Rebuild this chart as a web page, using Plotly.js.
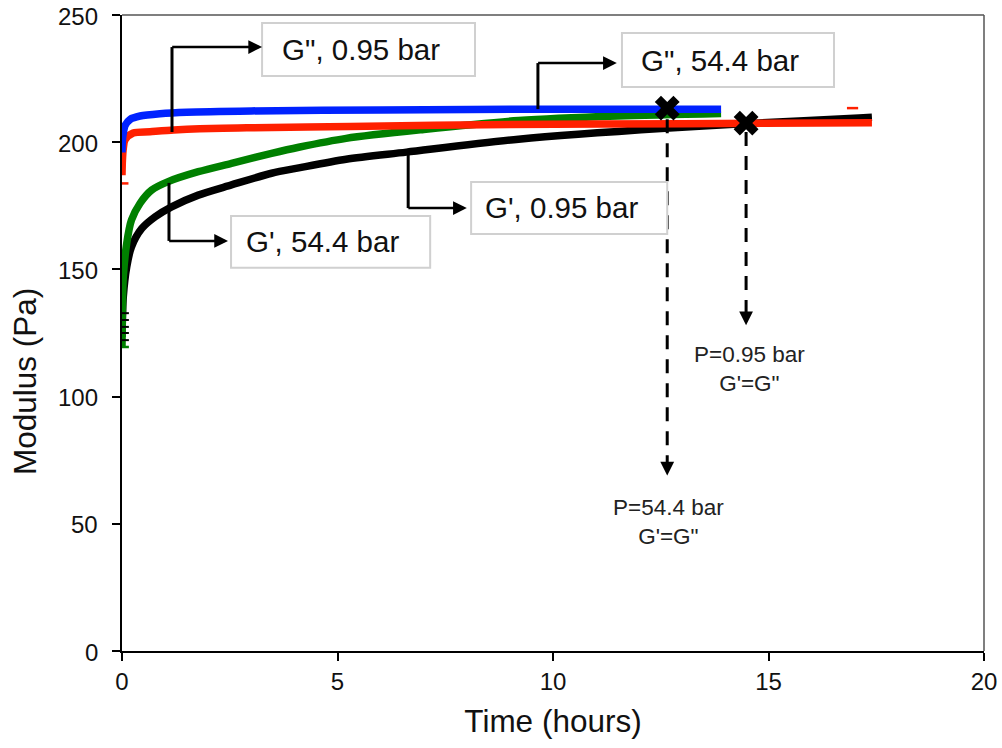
<!DOCTYPE html>
<html>
<head>
<meta charset="utf-8">
<script src="https://cdn.plot.ly/plotly-3.0.1.min.js"></script>
<style>html,body{margin:0;padding:0;background:#fff;}#chart{width:1002px;height:748px;}</style>
</head>
<body>
<div id="chart"></div>
<script>
// blue curve
var blueT = [0, 0.01, 0.04, 0.07, 0.19, 0.42, 0.88, 1.5, 3, 6, 10, 13.9];
var blueV = [196, 201, 204.5, 206.5, 209, 210.3, 211.2, 211.8, 212.3, 212.7, 213, 213];
// red curve
var redT = [0, 0.01, 0.03, 0.07, 0.26, 0.65, 1.2, 1.8, 3, 5.3, 9, 13, 17.4];
var redV = [187, 193, 197.5, 200.9, 203.6, 204.1, 204.8, 205.3, 205.7, 206.2, 207, 207.3, 207.6];
// green curve
var greenT = [0, 0.01, 0.03, 0.11, 0.22, 0.42, 0.69, 1.07, 1.77, 2.54, 3.47, 4.1, 5.2, 7, 9.2, 11.5, 13.9];
var greenV = [119.6, 135, 147, 160.3, 169.4, 176, 181.2, 184.5, 188.4, 191.7, 195.6, 198, 201.5, 205, 208.5, 210.3, 211.3];
// black curve
var blackT = [0, 0.01, 0.03, 0.11, 0.22, 0.46, 0.77, 1.15, 1.77, 2.54, 3.47, 4.1, 5.2, 6.6, 9.2, 12.6, 14.5, 17.1, 17.4];
var blackV = [123.5, 131, 139.3, 151, 158.9, 166.1, 170.7, 174.6, 179.2, 183.2, 187.8, 189.9, 193.3, 196.1, 201.2, 205.5, 207.3, 209.5, 209.8];
// stray error-bar dashes
var redDashT = [0.02, 16.95];
var redDashV = [183.8, 213.4];
var blackDashT = [0.03, 0.03, 0.03, 0.03, 0.03];
var blackDashV = [122.2, 125, 127.4, 130.1, 132.8];
var greenDashT = [0.03];
var greenDashV = [119.5];
// crossover points
var crossT = [12.65, 14.48];
var crossV = [213.4, 207.5];
// tick labels
var xTicks = [0, 5, 10, 15, 20];
var yTicks = [0, 50, 100, 150, 200, 250];

var F = 'Liberation Sans, Arial, sans-serif';

var traces = [
  {x: blackT, y: blackV, mode: 'lines', line: {color: '#000000', width: 7.5, shape: 'spline', smoothing: 0.8}},
  {x: greenT, y: greenV, mode: 'lines', line: {color: '#008000', width: 7.5, shape: 'spline', smoothing: 0.8}},
  {x: redT, y: redV, mode: 'lines', line: {color: '#ff2000', width: 7.5, shape: 'spline', smoothing: 0.8}},
  {x: blueT, y: blueV, mode: 'lines', line: {color: '#0022ff', width: 7.5, shape: 'spline', smoothing: 0.8}},
  {x: redDashT, y: redDashV, mode: 'markers', marker: {symbol: 'line-ew', size: 8, line: {color: '#ff2000', width: 2.5}}},
  {x: blackDashT, y: blackDashV, mode: 'markers', marker: {symbol: 'line-ew', size: 8, line: {color: '#000000', width: 2}}},
  {x: greenDashT, y: greenDashV, mode: 'markers', marker: {symbol: 'line-ew', size: 8, line: {color: '#008000', width: 2.5}}},
  {x: crossT, y: crossV, mode: 'markers', marker: {symbol: 'x', size: 22, color: '#000000'}}
];

// label boxes: [x0,x1,y0,y1,text]
var boxes = [
  [3.25, 8.19, 226.0, 246.9, "G\", 0.95 bar"],
  [11.60, 16.52, 221.7, 242.9, "G\", 54.4 bar"],
  [8.10, 12.65, 163.9, 184.4, "G', 0.95 bar"],
  [2.53, 7.15, 150.6, 171.0, "G', 54.4 bar"]
];
// elbow arrows: [xVert, yStart, yCorner, xHead]
var elbows = [
  [1.16, 204.0, 237.4, 3.25],
  [9.65, 213.0, 231.1, 11.48],
  [6.64, 196.5, 174.1, 8.0],
  [1.09, 184.0, 161.2, 2.46]
];

var shapes = [
  {type: 'line', xref: 'paper', yref: 'paper', x0: 0, x1: 1, y0: 1, y1: 1, line: {color: '#555555', width: 1.5}},
  {type: 'line', xref: 'paper', yref: 'paper', x0: 1, x1: 1, y0: 0, y1: 1, line: {color: '#555555', width: 1.5}},
  {type: 'line', xref: 'x', yref: 'y', x0: 12.65, x1: 12.65, y0: 209, y1: 72, line: {color: '#000', width: 3, dash: '14px,10px'}},
  {type: 'line', xref: 'x', yref: 'y', x0: 14.48, x1: 14.48, y0: 204, y1: 131, line: {color: '#000', width: 3, dash: '14px,10px'}}
];
var annotations = [];
boxes.forEach(function (b) {
  shapes.push({type: 'rect', xref: 'x', yref: 'y', x0: b[0], x1: b[1], y0: b[2], y1: b[3],
    line: {color: '#d0d0d0', width: 2}, fillcolor: '#ffffff', layer: 'above'});
  annotations.push({xref: 'x', yref: 'y', x: (b[0] + b[1]) / 2, y: (b[2] + b[3]) / 2, text: b[4],
    xshift: -8, showarrow: false, font: {family: F, size: 29.5, color: '#111'}});
});
elbows.forEach(function (e) {
  shapes.push({type: 'line', xref: 'x', yref: 'y', x0: e[0], x1: e[0], y0: e[1], y1: e[2], line: {color: '#000', width: 3}});
  annotations.push({xref: 'x', yref: 'y', axref: 'x', ayref: 'y', x: e[3], y: e[2], ax: e[0] - 0.03, ay: e[2],
    text: '', showarrow: true, arrowhead: 2, arrowsize: 1.1, arrowwidth: 2.5, arrowcolor: '#000', standoff: 0});
});
// dashed arrow heads
annotations.push({xref: 'x', yref: 'y', x: 12.65, y: 69, ax: 0, ay: -14, text: '', showarrow: true, arrowhead: 2, arrowsize: 1.1, arrowwidth: 2.5, arrowcolor: '#000'});
annotations.push({xref: 'x', yref: 'y', x: 14.48, y: 128, ax: 0, ay: -14, text: '', showarrow: true, arrowhead: 2, arrowsize: 1.1, arrowwidth: 2.5, arrowcolor: '#000'});
// bottom notes
var notes = [
  [14.55, 111.0, "P=0.95 bar<br>G'=G\""],
  [12.67, 50.8, "P=54.4 bar<br>G'=G\""]
];
notes.forEach(function (n) {
  annotations.push({xref: 'x', yref: 'y', x: n[0], y: n[1], text: n[2], showarrow: false,
    font: {family: F, size: 22.5, color: '#222'}});
});
// y tick labels (placed at the axis' own tick values)
yTicks.forEach(function (v) {
  annotations.push({xref: 'paper', yref: 'y', x: 0, y: v, text: String(v), xanchor: 'right', yanchor: 'middle',
    xshift: -22, yshift: -1, showarrow: false, font: {family: F, size: 24, color: '#111'}});
});
// y axis title
annotations.push({xref: 'paper', yref: 'paper', x: 0, y: 0.423, text: 'Modulus (Pa)', textangle: -90,
  xanchor: 'center', yanchor: 'middle', xshift: -97, showarrow: false, font: {family: F, size: 31.5, color: '#111'}});

var layout = {
  width: 1002, height: 748,
  margin: {l: 122, r: 18, t: 15, b: 97},
  paper_bgcolor: '#fff', plot_bgcolor: '#fff',
  showlegend: false,
  font: {family: F, color: '#000'},
  xaxis: {
    range: [0, 20], tickvals: xTicks, ticktext: xTicks.map(String),
    showgrid: false, zeroline: false, showline: true, linecolor: '#000', linewidth: 2,
    ticks: 'outside', ticklen: 8, tickwidth: 2, tickcolor: '#000',
    tickfont: {family: F, size: 24, color: '#111'},
    title: {text: 'Time (hours)', font: {family: F, size: 31.5, color: '#111'}, standoff: 16}
  },
  yaxis: {
    range: [0, 250], tickvals: yTicks, showticklabels: false,
    showgrid: false, zeroline: false, showline: true, linecolor: '#000', linewidth: 2,
    ticks: 'outside', ticklen: 8, tickwidth: 2, tickcolor: '#000'
  },
  shapes: shapes,
  annotations: annotations
};

Plotly.newPlot('chart', traces, layout, {displayModeBar: false, staticPlot: true});
</script>
</body>
</html>
